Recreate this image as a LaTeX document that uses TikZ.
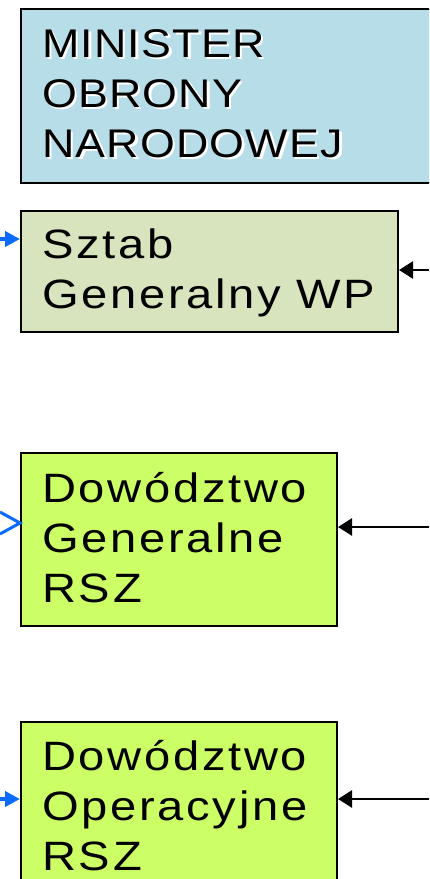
\documentclass[tikz,border=0pt]{standalone}
\usepackage{fontspec}
\setmainfont{Liberation Sans}[FakeStretch=1.15,LetterSpace=6.5]
\newfontfamily\topfont{Liberation Sans}[FakeStretch=1.12,LetterSpace=3]
\usetikzlibrary{arrows.meta}
\definecolor{minblue}{HTML}{B7DDE8}
\definecolor{sztabgreen}{HTML}{D7E4BD}
\definecolor{dowgreen}{HTML}{CCFF66}
\definecolor{arrowblue}{HTML}{0A6CFF}
\begin{document}
\begin{tikzpicture}[x=1pt,y=-1pt,
  box/.style={draw=black,line width=2pt,rectangle,anchor=north west,inner sep=0pt},
  boxtext/.style={anchor=base west,inner sep=0pt,align=left,font=\fontsize{41}{50}\selectfont},
  toptext/.style={boxtext,font=\topfont\fontsize{40}{50}\selectfont},
  bluearrow/.style={draw=arrowblue,line width=4pt,-{Triangle[length=15pt,width=15pt]}},
  chevron/.style={draw=arrowblue,line width=3pt},
  blackarrow/.style={draw=black,line width=2.5pt,-{Triangle[length=14pt,width=17pt]}}]
\useasboundingbox (0,0) rectangle (429,879);
\clip (0,0) rectangle (429,879);
% boxes
\node[box,fill=minblue,minimum width=440pt,minimum height=174pt] (min) at (20,8) {};
\node[box,fill=sztabgreen,minimum width=377pt,minimum height=121pt] (sztab) at (20,210) {};
\node[box,fill=dowgreen,minimum width=316pt,minimum height=173pt] (gen) at (20,452) {};
\node[box,fill=dowgreen,minimum width=316pt,minimum height=200pt] (oper) at (20,721) {};
% texts (base anchor = baseline of the last line)
\node[toptext,text=white] (minshadow) at (44.5,159.5) {MINISTER\\OBRONY\\NARODOWEJ};
\node[toptext] (mintext) at (42,157) {MINISTER\\OBRONY\\NARODOWEJ};
\node[boxtext] (sztabtext) at (42,308) {Sztab\\Generalny WP};
\node[boxtext] (gentext) at (42,602) {Dowództwo\\Generalne\\RSZ};
\node[boxtext] (opertext) at (42,870) {Dowództwo\\Operacyjne\\RSZ};
% left (blue) connectors
\coordinate (sztabin) at (0,239);
\draw[bluearrow] (sztabin) -- (sztab.west |- sztabin);
\coordinate (chevtop) at (0,512);
\coordinate (chevbot) at (0,534);
\coordinate (genin) at (0,523);
\draw[chevron] (chevtop) -- (gen.west |- genin) -- (chevbot);
\coordinate (operin) at (0,799);
\draw[bluearrow] (operin) -- (oper.west |- operin);
% right (black) connectors
\coordinate (sztabout) at (429,270);
\draw[blackarrow] (sztabout) -- (sztab.east |- sztabout);
\coordinate (genout) at (429,527);
\draw[blackarrow] (genout) -- (gen.east |- genout);
\coordinate (operout) at (429,799);
\draw[blackarrow] (operout) -- (oper.east |- operout);
\end{tikzpicture}
\end{document}
